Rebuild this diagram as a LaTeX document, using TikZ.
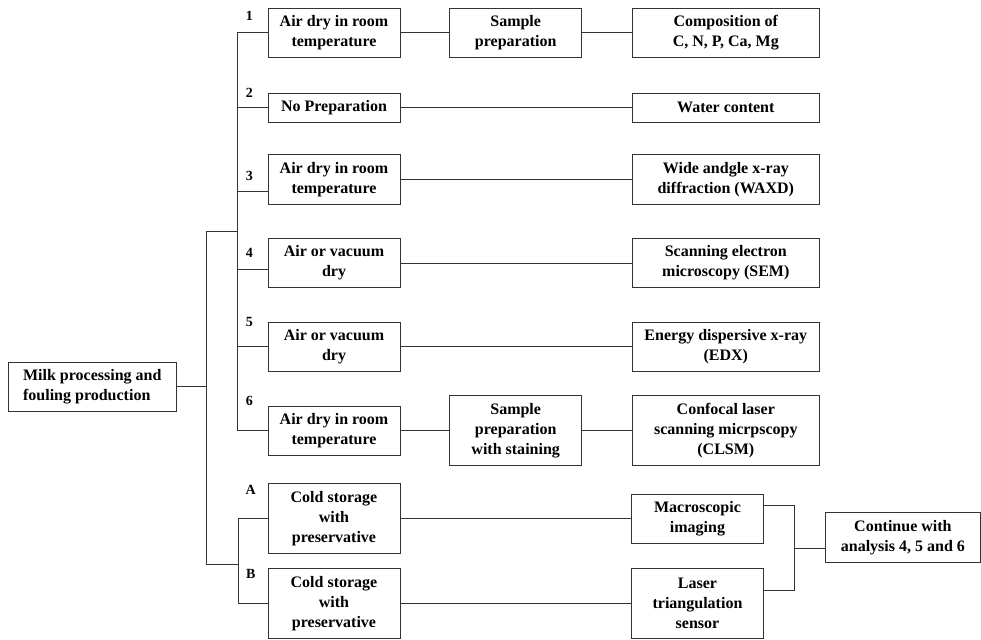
\documentclass[tikz,border=0pt]{standalone}
\usepackage{fontspec}
\setmainfont{Liberation Serif}
\usetikzlibrary{calc}

\begin{document}
\begin{tikzpicture}[x=1pt,y=-1pt,
	box/.style={draw=black!80, line width=1pt, align=center, inner sep=0pt, font=\fontsize{16}{20}\selectfont\bfseries},
	pre/.style={box, minimum width=132pt},
	res/.style={box, minimum width=187pt},
	one/.style={minimum height=28.7pt},
	two/.style={minimum height=49pt},
	three/.style={minimum height=69.7pt},
	num/.style={inner sep=0pt, font=\fontsize{14}{17}\selectfont\bfseries},
	link/.style={draw=black!80, line width=1pt}]

		\useasboundingbox (0,0) rectangle (981,639);

		\node[box, two, minimum width=168pt, align=left] (milk) at (92.3,386.5) {Milk processing and\\fouling production};

		\node[num] (n1) at (249.3,15.7) {1};
		\node[num] (n2) at (249.3,92.7) {2};
		\node[num] (n3) at (249.3,175.7) {3};
		\node[num] (n4) at (249.3,252.7) {4};
		\node[num] (n5) at (249.3,322) {5};
		\node[num] (n6) at (249.3,401) {6};
		\node[num] (nA) at (250.7,490) {A};
		\node[num] (nB) at (250.7,574) {B};

			\node[pre, two] (p1) at (334,32.8) {Air dry in room\\temperature};
				\node[pre, two] (s1) at (515.7,32.8) {Sample\\preparation};
				\node[res, two] (r1) at (725.8,32.8) {Composition of\\C, N, P, Ca, Mg};

			\node[pre, one] (p2) at (334,107.7) {No Preparation};
				\node[res, one] (r2) at (725.8,107.7) {Water content};

			\node[pre, two] (p3) at (334,179.5) {Air dry in room\\temperature};
				\node[res, two] (r3) at (725.8,179.5) {Wide andgle x-ray\\diffraction (WAXD)};

			\node[pre, two] (p4) at (334,263) {Air or vacuum\\dry};
				\node[res, two] (r4) at (725.8,263) {Scanning electron\\microscopy (SEM)};

			\node[pre, two] (p5) at (334,346.8) {Air or vacuum\\dry};
				\node[res, two] (r5) at (725.8,346.8) {Energy dispersive x-ray\\(EDX)};

			\node[pre, two] (p6) at (334,430.5) {Air dry in room\\temperature};
				\node[pre, three] (s6) at (515.7,430.5) {Sample\\preparation\\with staining};
				\node[res, three] (r6) at (725.8,430.5) {Confocal laser\\scanning micrpscopy\\(CLSM)};

			\node[pre, three] (pA) at (334,518.5) {Cold storage\\with\\preservative};
				\node[pre, two] (mac) at (697.5,518.5) {Macroscopic\\imaging};

			\node[pre, three] (pB) at (334,603.3) {Cold storage\\with\\preservative};
				\node[pre, three] (las) at (697.5,603.3) {Laser\\triangulation\\sensor};

					\node[box, minimum width=154.3pt, minimum height=49.6pt] (cont) at (902.9,537.5) {Continue with\\analysis 4, 5 and 6};

		\coordinate (t) at (206.7,231.7);
		\coordinate (j1) at (237.7,231.7);
		\coordinate (jab) at (238.7,564);
		\coordinate (jm) at (794,548.7);
		\coordinate (p3c) at ([yshift=-11.5pt]p3.west);
		\coordinate (p4c) at ([yshift=-6pt]p4.west);
		\coordinate (mt) at ([yshift=12.8pt]mac.east);
		\coordinate (lt) at ([yshift=13.3pt]las.east);
		\coordinate (ct) at ([yshift=-11.2pt]cont.west);

		\draw[link] (milk.east) -- (milk.east -| t);
		\draw[link] (j1) -- (t) -- (t |- jab) -- (jab);

		\draw[link] (p1.west) -| (j1) |- (p6.west);
		\draw[link] (p2.west) -- (p2.west -| j1);
		\draw[link] (p3c) -- (p3c -| j1);
		\draw[link] (p4c) -- (p4c -| j1);
		\draw[link] (p5.west) -- (p5.west -| j1);
		\draw[link] (pA.west) -| (jab) |- (pB.west);

		\draw[link] (p1) -- (s1) -- (r1);
		\draw[link] (p2) -- (r2);
		\draw[link] (p3) -- (r3);
		\draw[link] (p4) -- (r4);
		\draw[link] (p5) -- (r5);
		\draw[link] (p6) -- (s6) -- (r6);
		\draw[link] (pA) -- (mac);
		\draw[link] (pB) -- (las);

		\draw[link] (mt) -| (jm) |- (lt);
		\draw[link] (jm |- ct) -- (ct);

\end{tikzpicture}
\end{document}
